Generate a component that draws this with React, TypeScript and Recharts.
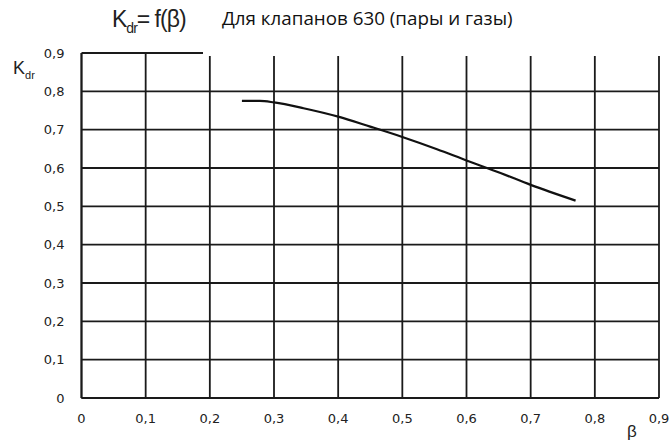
import { CartesianGrid, Line, LineChart, XAxis, YAxis } from 'recharts';

// β values along the curve and the K_dr
const betaValues = [0.25, 0.278, 0.3, 0.346, 0.4, 0.45, 0.5, 0.554, 0.601, 0.653, 0.7, 0.77];
const kdrValues = [0.775, 0.775, 0.771, 0.756, 0.734, 0.708, 0.681, 0.649, 0.619, 0.587, 0.556, 0.515];

const xTicks = [0, 0.1, 0.2, 0.3, 0.4, 0.5, 0.6, 0.7, 0.8, 0.9];
const yTicks = [0, 0.1, 0.2, 0.3, 0.4, 0.5, 0.6, 0.7, 0.8, 0.9];

const chartTitle = 'Для клапанов 630 (пары и газы)';

const data = betaValues.map((beta, i) => ({ beta, kdr: kdrValues[i] }));

const fmt = (v: number) => (v === 0 ? '0' : v.toFixed(1).replace('.', ','));

const tickStyle = { fontFamily: 'DejaVu Sans', fontSize: 13, fill: '#222' };

export default function App() {
  return (
    <div style={{ position: 'absolute', left: 0, top: 0, width: 669, height: 443, background: '#fff', overflow: 'hidden' }}>
      <LineChart width={669} height={443} data={data} margin={{ top: 53, right: 10, bottom: 0, left: 0 }}>
        <CartesianGrid stroke="#1a1a1a" strokeWidth={1.8} horizontalValues={yTicks} verticalValues={xTicks} />
        <XAxis
          type="number"
          dataKey="beta"
          domain={[0, 0.9]}
          ticks={xTicks}
          tickFormatter={fmt}
          tick={tickStyle}
          tickLine={false}
          tickSize={0}
          tickMargin={16}
          axisLine={{ stroke: '#1a1a1a', strokeWidth: 1.8 }}
          height={45}
          interval={0}
          allowDataOverflow
        />
        <YAxis
          type="number"
          domain={[0, 0.9]}
          ticks={yTicks}
          tickFormatter={fmt}
          tick={tickStyle}
          tickLine={false}
          tickSize={0}
          tickMargin={17}
          axisLine={{ stroke: '#1a1a1a', strokeWidth: 1.8 }}
          width={81.5}
          interval={0}
        />
        <Line
          type="monotone"
          dataKey="kdr"
          stroke="#111"
          strokeWidth={2.2}
          dot={false}
          isAnimationActive={false}
        />
      </LineChart>

      {/* formula caption */}
      <div style={{ position: 'absolute', left: 112, top: 6, fontFamily: 'Liberation Sans', fontSize: 23, color: '#222', whiteSpace: 'nowrap', letterSpacing: -1 }}>
        K<sub style={{ fontSize: 14 }}>dr</sub>= f(β)
      </div>

      {/* white label box covering the top edge */}
      <div style={{ position: 'absolute', left: 203, top: 0, width: 466, height: 56, background: '#fff' }}>
        <div style={{ position: 'absolute', left: 19, top: 5, fontFamily: 'Open Sans', fontSize: 18.8, color: '#111', whiteSpace: 'nowrap' }}>
          {chartTitle}
        </div>
      </div>

      {/* axis names */}
      <div style={{ position: 'absolute', left: 13, top: 58, fontFamily: 'Liberation Sans', fontSize: 18, color: '#222', whiteSpace: 'nowrap' }}>
        K<sub style={{ fontSize: 11 }}>dr</sub>
      </div>
      <div style={{ position: 'absolute', left: 627, top: 422, fontFamily: 'Liberation Sans', fontSize: 17, color: '#222' }}>β</div>
    </div>
  );
}
